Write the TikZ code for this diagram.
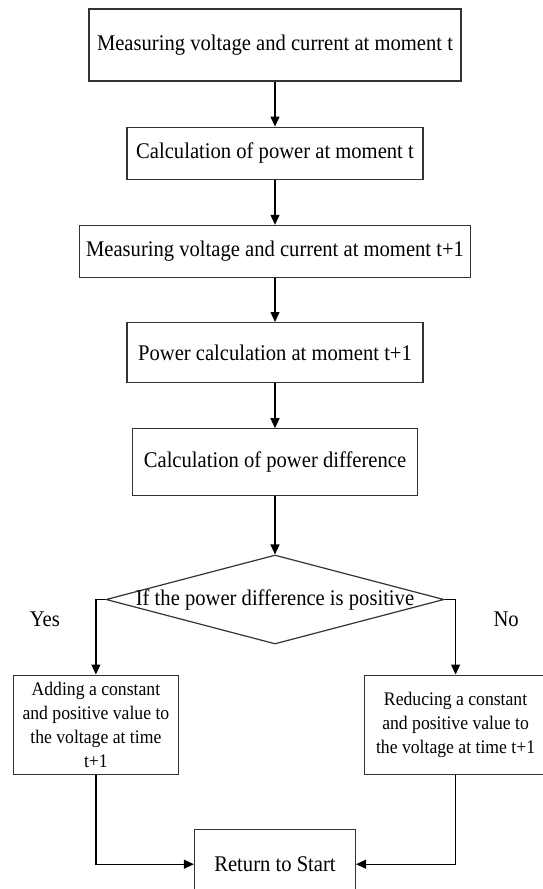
\documentclass[tikz,border=0pt]{standalone}
\usepackage{fontspec}
\setmainfont{Liberation Serif}[FakeStretch=0.92]
\usetikzlibrary{arrows.meta,positioning,shapes.geometric}

\begin{document}
\begin{tikzpicture}[
  node distance=22.5pt,
  font=\fontsize{11.2}{13.4}\selectfont,
  box/.style={draw=black!80, line width=0.6pt, align=center, inner sep=1.5pt},
  side/.style={box, font=\fontsize{9.6}{12}\selectfont, minimum height=49.5pt},
  decision/.style={draw=black!80, line width=0.6pt, diamond, inner sep=0pt, minimum width=169pt, minimum height=44.5pt},
  arr/.style={-{Triangle[length=5pt,width=4.5pt]}, line width=0.6pt}
]
  \useasboundingbox (0,0) rectangle (271pt,-444.5pt);

  \node[box, minimum width=186pt, minimum height=36pt] (meas1) at (137.5pt,-22.5pt) {Measuring voltage and current at moment t};

  \node[box, below=of meas1, minimum width=148pt, minimum height=26pt] (powt) {Calculation of power at moment t};

  \node[box, below=of powt, minimum width=195.5pt, minimum height=26pt] (meas2) {Measuring voltage and current at moment t+1};

  \node[box, below=22pt of meas2, minimum width=148pt, minimum height=30pt] (powt1) {Power calculation at moment t+1};

  \node[box, below=of powt1, minimum width=142.5pt, minimum height=33.5pt] (diff) {Calculation of power difference};

  \node[decision, below=29pt of diff, label=center:{If the power difference is positive}] (check) {};

  \node (yes) at ([xshift=-30.25pt, yshift=-10pt]check.west) {Yes};
  \node (no) at ([xshift=30.75pt, yshift=-10pt]check.east) {No};

  \node[side, below=37.5pt of check.west, xshift=-4.75pt, minimum width=82.75pt] (add) {Adding a constant\\and positive value to\\the voltage at time\\t+1};
  \node[side, below=37.5pt of check.east, xshift=5.5pt, minimum width=91pt] (reduce) {Reducing a constant\\and positive value to\\the voltage at time t+1};

  \node[box, below=92pt of check, minimum width=80.5pt, minimum height=35pt] (restart) {Return to Start};

  \draw[arr] (meas1) -- (powt);
  \draw[arr] (powt) -- (meas2);
  \draw[arr] (meas2) -- (powt1);
  \draw[arr] (powt1) -- (diff);
  \draw[arr] (diff) -- (check);
  \draw[arr] (check.west) -| (add.north);
  \draw[arr] (check.east) -| (reduce.north);
  \draw[arr] (add.south) |- (restart.west);
  \draw[arr] (reduce.south) |- (restart.east);
\end{tikzpicture}
\end{document}
